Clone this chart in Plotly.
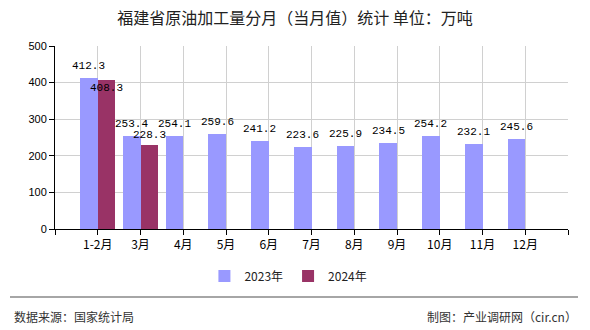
import plotly.graph_objects as go

categories = ["1-2月", "3月", "4月", "5月", "6月", "7月", "8月", "9月", "10月", "11月", "12月"]
values_2023 = [412.3, 253.4, 254.1, 259.6, 241.2, 223.6, 225.9, 234.5, 254.2, 232.1, 245.6]
values_2024 = [408.3, 228.3]
series_names = ["2023年", "2024年"]
y_ticks = [0, 100, 200, 300, 400, 500]

title = "福建省原油加工量分月（当月值）统计 单位：万吨"
source_text = "数据来源：国家统计局"
credit_text = "制图：产业调研网（cir.cn）"

C23 = "#9999FF"
C24 = "#993366"
BW = 0.41

W, H = 590, 330
L, R, T, B = 55, 22, 46, 101
PW, PH = W - L - R, H - T - B

xs23 = list(range(1, len(values_2023) + 1))
xs24 = list(range(1, len(values_2024) + 1))

fig = go.Figure()
fig.add_trace(go.Bar(x=xs23, y=values_2023, name=series_names[0], marker_color=C23,
                     width=BW, offset=-BW, marker_line_width=0))
fig.add_trace(go.Bar(x=xs24, y=values_2024, name=series_names[1], marker_color=C24,
                     width=BW, offset=0, marker_line_width=0))

LABEL_FONT = dict(family="Liberation Mono, DejaVu Sans Mono, monospace", size=11, color="#000")
annotations = []
for x, v in zip(xs23, values_2023):
    annotations.append(dict(x=x - BW / 2, y=v, xref="x", yref="y", text=f"{v:.1f}",
                            showarrow=False, yanchor="middle", yshift=12, font=LABEL_FONT))
for x, v in zip(xs24, values_2024):
    close = abs(values_2023[x - 1] - v) < 10
    annotations.append(dict(x=x + BW / 2, y=v, xref="x", yref="y", text=f"{v:.1f}",
                            showarrow=False, yanchor="middle", yshift=-8 if close else 10,
                            font=LABEL_FONT))

def px_to_paper_x(px):
    return (px - L) / PW

def py_to_paper_y(py):
    return (H - B - py) / PH

FOOT_FONT = dict(family="Noto Sans CJK SC, sans-serif", size=12, color="#333")
annotations.append(dict(x=px_to_paper_x(12), y=py_to_paper_y(316), xref="paper", yref="paper",
                        text=source_text, showarrow=False, xanchor="left", yanchor="middle",
                        font=FOOT_FONT))
annotations.append(dict(x=px_to_paper_x(579), y=py_to_paper_y(316), xref="paper", yref="paper",
                        text=credit_text, showarrow=False, xanchor="right", yanchor="middle",
                        font=FOOT_FONT))

shapes = [dict(type="line", xref="paper", yref="paper",
               x0=px_to_paper_x(10), x1=px_to_paper_x(578),
               y0=py_to_paper_y(297), y1=py_to_paper_y(297),
               line=dict(color="#888", width=1.5))]

n = len(categories)
fig.update_layout(
    width=W, height=H,
    margin=dict(l=L, r=R, t=T, b=B),
    paper_bgcolor="white", plot_bgcolor="white",
    title=dict(text=title, x=0.5, xref="container", xanchor="center",
               y=1 - 18 / H, yref="container", yanchor="middle",
               font=dict(family="Noto Sans CJK SC, sans-serif", size=16, color="#222")),
    showlegend=True,
    legend=dict(orientation="h", x=0.455, xanchor="center", y=py_to_paper_y(276), yanchor="middle",
                font=dict(family="Noto Sans CJK SC, sans-serif", size=12, color="#222"),
                itemwidth=30, traceorder="normal"),
    annotations=annotations,
    shapes=shapes,
    bargap=0, bargroupgap=0,
)
fig.update_xaxes(
    range=[0, n + 1],
    tickvals=list(range(0, n + 2)),
    ticktext=[""] + categories + [""],
    showgrid=True, gridcolor="#d0d0d0", gridwidth=1,
    showline=True, linecolor="#000", linewidth=1,
    ticks="outside", ticklen=5, tickcolor="#000",
    tickfont=dict(family="Noto Sans CJK SC, sans-serif", size=12, color="#000"),
    zeroline=False, fixedrange=True,
)
fig.update_yaxes(
    range=[0, 500],
    tickvals=y_ticks,
    showgrid=True, gridcolor="#d0d0d0", gridwidth=1,
    showline=True, linecolor="#000", linewidth=1,
    ticks="outside", ticklen=5, tickcolor="#000",
    tickfont=dict(family="Liberation Sans, Arial, sans-serif", size=11, color="#000"),
    zeroline=False, fixedrange=True,
)

fig.write_html("out.html")
